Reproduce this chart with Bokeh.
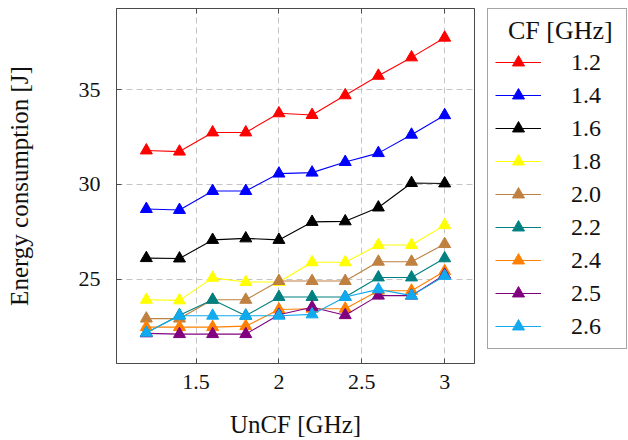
from bokeh.plotting import figure
from bokeh.layouts import row
from bokeh.models import Legend, LegendItem, LinearAxis, Range1d, FixedTicker, CustomJSTickFormatter
from bokeh.embed import file_html
from bokeh.resources import INLINE

# ---- data ----
uncf = [1.2, 1.4, 1.6, 1.8, 2.0, 2.2, 2.4, 2.6, 2.8, 3.0]
cf_labels = ["1.2", "1.4", "1.6", "1.8", "2.0", "2.2", "2.4", "2.5", "2.6"]

e_cf12 = [31.79, 31.73, 32.74, 32.74, 33.75, 33.66, 34.70, 35.73, 36.70, 37.74]
e_cf14 = [28.70, 28.65, 29.65, 29.65, 30.57, 30.62, 31.18, 31.65, 32.62, 33.65]
e_cf16 = [26.11, 26.09, 27.07, 27.15, 27.07, 28.02, 28.05, 28.78, 30.07, 30.05]
e_cf18 = [23.91, 23.88, 25.07, 24.85, 24.85, 25.89, 25.89, 26.80, 26.80, 27.85]
e_cf20 = [22.92, 22.92, 23.91, 23.91, 24.90, 24.90, 24.90, 25.92, 25.92, 26.85]
e_cf22 = [22.17, 23.10, 23.91, 23.07, 24.06, 24.06, 24.06, 25.09, 25.09, 26.10]
e_cf24 = [22.47, 22.47, 22.47, 22.52, 23.40, 23.44, 23.44, 24.39, 24.39, 25.42]
e_cf25 = [22.14, 22.10, 22.10, 22.10, 23.12, 23.52, 23.10, 24.13, 24.13, 25.23]
e_cf26 = [22.17, 23.07, 23.07, 23.07, 23.07, 23.14, 24.06, 24.46, 24.13, 25.17]

series = [e_cf12, e_cf14, e_cf16, e_cf18, e_cf20, e_cf22, e_cf24, e_cf25, e_cf26]
colors = ["#ff0000", "#0000ff", "#000000", "#ffff00", "#bf8040",
          "#008080", "#ff8000", "#800080", "#12aaee"]

x_ticks = [1.5, 2, 2.5, 3]
y_ticks = [25, 30, 35]

FONT = "Liberation Serif"
FRAME = "#4a4a4a"

# ---------------- main plot ----------------
p = figure(width=475, height=440, output_backend="svg", toolbar_location=None,
           x_range=Range1d(1.02, 3.18), y_range=Range1d(20.55, 39.28),
           min_border_left=116, min_border_right=1, min_border_top=8,
           min_border_bottom=73)
p.background_fill_color = "white"
p.border_fill_color = "white"
p.outline_line_color = FRAME
p.outline_line_width = 1

for ax in (p.xaxis[0], p.yaxis[0]):
    ax.axis_line_color = FRAME
    ax.major_tick_line_color = FRAME
    ax.major_tick_in = 5
    ax.major_tick_out = 0
    ax.minor_tick_line_color = None
    ax.major_label_text_font = FONT
    ax.major_label_text_font_size = "22px"
    ax.major_label_text_color = "#111111"
    ax.axis_label_text_font = FONT
    ax.axis_label_text_font_size = "25px"
    ax.axis_label_text_font_style = "normal"
    ax.axis_label_text_color = "#111111"
    ax.formatter = CustomJSTickFormatter(code="return tick.toString();")

p.xaxis[0].ticker = FixedTicker(ticks=x_ticks)
p.yaxis[0].ticker = FixedTicker(ticks=y_ticks)
p.xaxis[0].axis_label = "UnCF [GHz]"
p.yaxis[0].axis_label = "Energy consumption [J]"
p.xaxis[0].major_label_standoff = 11
p.xaxis[0].axis_label_standoff = 19
p.yaxis[0].major_label_standoff = 16
p.yaxis[0].axis_label_standoff = 43

# tick marks on the top frame side (labels not drawn)
top_ax = LinearAxis(ticker=FixedTicker(ticks=x_ticks),
                    major_label_text_font_size="1px", major_label_text_color=None,
                    major_label_standoff=0,
                    axis_line_color=FRAME, major_tick_line_color=FRAME,
                    major_tick_in=5, major_tick_out=0, minor_tick_line_color=None)
p.add_layout(top_ax, "above")

for g in (p.xgrid[0], p.ygrid[0]):
    g.grid_line_color = "#c4c4c4"
    g.grid_line_dash = "6 4"
    g.grid_line_width = 1
p.xgrid[0].ticker = FixedTicker(ticks=x_ticks)
p.ygrid[0].ticker = FixedTicker(ticks=y_ticks)

for vals, col in zip(series, colors):
    p.line(uncf, vals, line_color=col, line_width=1.1)
    p.scatter(uncf, vals, marker="triangle", size=12, fill_color=col,
              line_color=col, line_width=1)

# ---------------- legend panel ----------------
lf = figure(width=153, height=440, output_backend="svg", toolbar_location=None,
            x_range=Range1d(100, 101), y_range=Range1d(100, 101),
            min_border_left=12, min_border_right=0, min_border_top=8,
            min_border_bottom=0)
lf.axis.visible = False
lf.grid.visible = False
lf.outline_line_color = None
lf.background_fill_color = "white"
lf.border_fill_color = "white"

items = []
for label, vals, col in zip(cf_labels, series, colors):
    ln = lf.line(uncf, vals, line_color=col, line_width=1.1)
    mk = lf.scatter(uncf, vals, marker="triangle", size=12, fill_color=col,
                    line_color=col, line_width=1)
    items.append(LegendItem(label=label, renderers=[ln, mk]))

legend = Legend(items=items, location="top_left",
                title="\u00a0\u00a0CF [GHz]\u00a0")
legend.title_text_font = FONT
legend.title_text_font_size = "26px"
legend.title_text_font_style = "normal"
legend.title_text_color = "#111111"
legend.title_standoff = 1
legend.label_text_font = FONT
legend.label_text_font_size = "24px"
legend.label_text_color = "#111111"
legend.label_standoff = 30
legend.glyph_width = 46
legend.glyph_height = 30
legend.label_height = 30
legend.spacing = 3
legend.padding = 7
legend.margin = 0
legend.border_line_color = FRAME
legend.border_line_width = 1
legend.background_fill_color = "white"
legend.background_fill_alpha = 1
lf.add_layout(legend, "center")

layout = row(p, lf)
open("out.html", "w").write(file_html(layout, INLINE))
